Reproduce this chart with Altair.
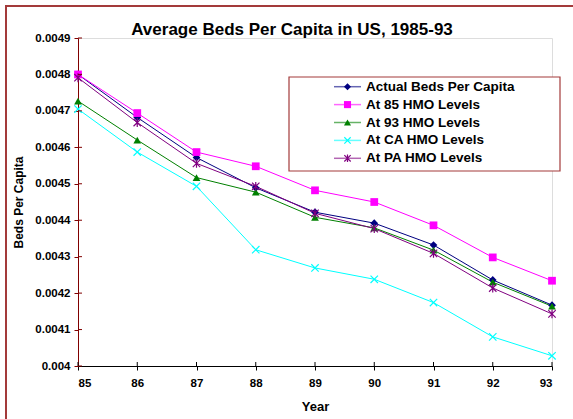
import altair as alt
import pandas as pd

# Years (two-digit, as labelled on the axis)
years = [85, 86, 87, 88, 89, 90, 91, 92, 93]

series_names = [
    "Actual Beds Per Capita",
    "At 85 HMO Levels",
    "At 93 HMO Levels",
    "At CA HMO Levels",
    "At PA HMO Levels",
]

actual = [0.00480, 0.004682, 0.004572, 0.004489, 0.004422, 0.004392, 0.004332, 0.004236, 0.004167]
hmo85 = [0.00480, 0.004694, 0.004587, 0.004548, 0.004482, 0.004450, 0.004386, 0.004298, 0.004234]
hmo93 = [0.004727, 0.004620, 0.004517, 0.004477, 0.004408, 0.004379, 0.004318, 0.004230, 0.004164]
hmo_ca = [0.004705, 0.004587, 0.004493, 0.004319, 0.004269, 0.004238, 0.004174, 0.004080, 0.004028]
hmo_pa = [0.004791, 0.004668, 0.004556, 0.004493, 0.004419, 0.004377, 0.004309, 0.004214, 0.004143]

y_ticks = [0.0040, 0.0041, 0.0042, 0.0043, 0.0044, 0.0045, 0.0046, 0.0047, 0.0048, 0.0049]

colors = ["#000080", "#FF00FF", "#008000", "#00FFFF", "#800080"]
cross = "M-1,-1L1,1M-1,1L1,-1"
asterisk = "M-1,-1L1,1M-1,1L1,-1M0,-1.2L0,1.2"
shapes = ["diamond", "square", "triangle-up", cross, asterisk]

FONT = "Liberation Sans"
AXIS_RED = "#800000"
FRAME_RED = "#A33A3A"

W, H = 474, 328

rows = []
for name, vals in zip(series_names, [actual, hmo85, hmo93, hmo_ca, hmo_pa]):
    for yr, v in zip(years, vals):
        rows.append({"year": yr, "value": v, "series": name})
df = pd.DataFrame(rows)

color_scale = alt.Scale(domain=series_names, range=colors)
shape_scale = alt.Scale(domain=series_names, range=shapes)
x_scale = alt.Scale(domain=[85, 93], nice=False, zero=False)
y_scale = alt.Scale(domain=[0.004, 0.0049], nice=False, zero=False)

x_axis = alt.Axis(
    values=years, format="d", title="Year", grid=False,
    domainColor="black", tickColor="black", tickSize=4,
    labelPadding=7, titlePadding=12, labelOverlap=False,
    labelFont=FONT, labelFontSize=11.5, labelFontWeight="bold", labelColor="black",
    titleFont=FONT, titleFontSize=13, titleFontWeight="bold", titleColor="black",
)
y_axis = alt.Axis(
    values=y_ticks, labelExpr="format(datum.value, '.4~f')", title="Beds Per Capita",
    grid=False, domainColor=AXIS_RED, tickColor=AXIS_RED, tickSize=4,
    labelPadding=4, titlePadding=9, labelOverlap=False,
    labelFont=FONT, labelFontSize=11.5, labelFontWeight="bold", labelColor="black",
    titleFont=FONT, titleFontSize=12, titleFontWeight="bold", titleColor="black",
)
x_enc = alt.X("year:Q", scale=x_scale, axis=x_axis)
y_enc = alt.Y("value:Q", scale=y_scale, axis=y_axis)
color_enc = alt.Color("series:N", scale=color_scale, legend=None)
shape_enc = alt.Shape("series:N", scale=shape_scale, legend=None)

base = alt.Chart(df)

lines = base.mark_line(strokeWidth=1).encode(
    x=x_enc, y=y_enc, color=color_enc, detail="series:N",
)
filled_pts = base.transform_filter(
    alt.FieldOneOfPredicate(field="series", oneOf=series_names[:3])
).mark_point(filled=True, size=60, opacity=1).encode(
    x=x_enc, y=y_enc, color=color_enc, shape=shape_enc,
)
stroked_pts = base.transform_filter(
    alt.FieldOneOfPredicate(field="series", oneOf=series_names[3:])
).mark_point(filled=False, size=55, strokeWidth=1.2, opacity=1).encode(
    x=x_enc, y=y_enc, color=color_enc, shape=shape_enc,
)

# inward half of the crossing tick marks
yt = pd.DataFrame({"value": y_ticks})
y_inner = alt.Chart(yt).mark_rule(color=AXIS_RED, strokeWidth=1).encode(
    y=y_enc, x=alt.value(0), x2=alt.value(4)
)
xt = pd.DataFrame({"year": years})
x_inner = alt.Chart(xt).mark_rule(color="black", strokeWidth=1).encode(
    x=x_enc, y=alt.value(H - 4), y2=alt.value(H)
)

main = alt.layer(lines, filled_pts, stroked_pts, y_inner, x_inner)

# legend drawn as its own layer
leg = pd.DataFrame({"series": series_names, "idx": list(range(len(series_names)))})
leg_y = alt.Y("idx:Q", scale=alt.Scale(domain=[0, 4], range=[48.7, 120.3]), axis=None)
leg_base = alt.Chart(leg)

leg_box = alt.Chart(pd.DataFrame({"k": [0]})).mark_rect(
    fill="white", stroke=FRAME_RED, strokeWidth=1.2
).encode(x=alt.value(211), x2=alt.value(482), y=alt.value(39), y2=alt.value(133))
leg_rules = leg_base.mark_rule(strokeWidth=1.5, opacity=0.6).encode(
    y=leg_y, x=alt.value(256), x2=alt.value(283), color=color_enc,
)
leg_filled = leg_base.transform_filter(
    alt.FieldOneOfPredicate(field="series", oneOf=series_names[:3])
).mark_point(filled=True, size=50, opacity=1).encode(
    y=leg_y, x=alt.value(269.5), color=color_enc, shape=shape_enc,
)
leg_stroked = leg_base.transform_filter(
    alt.FieldOneOfPredicate(field="series", oneOf=series_names[3:])
).mark_point(filled=False, size=40, strokeWidth=1.2, opacity=1).encode(
    y=leg_y, x=alt.value(269.5), color=color_enc, shape=shape_enc,
)
leg_text = leg_base.mark_text(
    align="left", baseline="middle", font=FONT, fontSize=13.5, fontWeight="bold", color="black"
).encode(y=leg_y, x=alt.value(288), text="series:N")

legend = alt.layer(leg_box, leg_rules, leg_filled, leg_stroked, leg_text)

title = alt.Chart(pd.DataFrame({"t": ["Average Beds Per Capita in US, 1985-93"]})).mark_text(
    align="center", baseline="middle", font=FONT, fontSize=17, fontWeight="bold", color="black"
).encode(x=alt.value(214), y=alt.value(-8), text="t:N")

frame = alt.Chart(pd.DataFrame({"k": [0]})).mark_rect(
    fill=None, stroke=FRAME_RED, strokeWidth=2
).encode(x=alt.value(-72), x2=alt.value(620), y=alt.value(-32), y2=alt.value(520))

chart = alt.layer(frame, main, legend, title).resolve_scale(
    y="independent"
).properties(
    width=W, height=H,
    autosize=alt.AutoSizeParams(type="none"),
    padding={"left": 78, "top": 38, "right": 21, "bottom": 53},
).configure_view(stroke=None).configure(background="white")

chart.save("out.html", embed_options={"renderer": "svg", "actions": False})
